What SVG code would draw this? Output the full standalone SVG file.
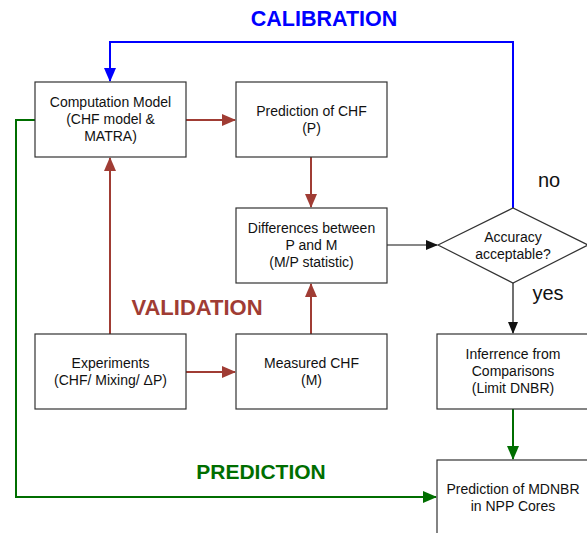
<svg xmlns="http://www.w3.org/2000/svg" width="587" height="533" viewBox="0 0 587 533">
<style>
.box{fill:#fff;stroke:#333;stroke-width:1.2}
.t{font-family:"Liberation Sans",Arial,sans-serif;font-size:14px;fill:#111;text-anchor:middle}
.lbl{font-family:"Liberation Sans",Arial,sans-serif;font-weight:bold;text-anchor:middle}
.br{stroke:#A03C34;stroke-width:2;fill:none}
.bk{stroke:#111;stroke-width:1.2;fill:none}
.bl{stroke:#0000FF;stroke-width:2;fill:none}
.gr{stroke:#006E00;stroke-width:2;fill:none}
</style>
<defs>
<marker id="mbr" markerWidth="14" markerHeight="12" refX="13" refY="6" orient="auto" markerUnits="userSpaceOnUse"><path d="M0,0 L14,6 L0,12 z" fill="#A03C34"/></marker>
<marker id="mbk" markerWidth="12" markerHeight="10" refX="11" refY="5" orient="auto" markerUnits="userSpaceOnUse"><path d="M0,0 L12,5 L0,10 z" fill="#111"/></marker>
<marker id="mbl" markerWidth="14" markerHeight="12" refX="13" refY="6" orient="auto" markerUnits="userSpaceOnUse"><path d="M0,0 L14,6 L0,12 z" fill="#0000FF"/></marker>
<marker id="mgr" markerWidth="14" markerHeight="12" refX="13" refY="6" orient="auto" markerUnits="userSpaceOnUse"><path d="M0,0 L14,6 L0,12 z" fill="#006E00"/></marker>
</defs>
<rect width="587" height="533" fill="#fff"/>
<g id="connectors">
<path class="br" d="M186,120 H235" marker-end="url(#mbr)"/>
<path class="br" d="M311,157 V207" marker-end="url(#mbr)"/>
<path class="br" d="M311,334 V284" marker-end="url(#mbr)"/>
<path class="br" d="M110,334 V158" marker-end="url(#mbr)"/>
<path class="br" d="M186,372 H235" marker-end="url(#mbr)"/>
<path class="bk" d="M387,245 H437" marker-end="url(#mbk)"/>
<path class="bk" d="M513,283 V333" marker-end="url(#mbk)"/>
<path class="bl" d="M513,208 V42 H110 V81" marker-end="url(#mbl)"/>
<path class="gr" d="M35,120 H16 V497 H436" marker-end="url(#mgr)"/>
<path class="gr" d="M513,409 V459" marker-end="url(#mgr)"/>
</g>
<g id="computation-model">
<rect class="box" x="35" y="82" width="151" height="75"/>
<text class="t" x="110.5" y="107">Computation Model</text>
<text class="t" x="110.5" y="124">(CHF model &amp;</text>
<text class="t" x="110.5" y="141">MATRA)</text>
</g>
<g id="prediction-chf">
<rect class="box" x="236" y="82" width="151" height="75"/>
<text class="t" x="311.5" y="116">Prediction of CHF</text>
<text class="t" x="311.5" y="133">(P)</text>
</g>
<g id="differences">
<rect class="box" x="236" y="208" width="151" height="75"/>
<text class="t" x="311.5" y="233">Differences between</text>
<text class="t" x="311.5" y="250">P and M</text>
<text class="t" x="311.5" y="267">(M/P statistic)</text>
</g>
<g id="accuracy">
<path class="box" d="M438,245 L513,208 L588,245 L513,283 z"/>
<text class="t" x="513" y="242">Accuracy</text>
<text class="t" x="513" y="259">acceptable?</text>
</g>
<g id="experiments">
<rect class="box" x="35" y="334" width="151" height="75"/>
<text class="t" x="110.5" y="368">Experiments</text>
<text class="t" x="110.5" y="385">(CHF/ Mixing/ ΔP)</text>
</g>
<g id="measured-chf">
<rect class="box" x="236" y="334" width="151" height="75"/>
<text class="t" x="311.5" y="368">Measured CHF</text>
<text class="t" x="311.5" y="385">(M)</text>
</g>
<g id="inferrence">
<rect class="box" x="437" y="334" width="151" height="75"/>
<text class="t" x="513" y="359">Inferrence from</text>
<text class="t" x="513" y="376">Comparisons</text>
<text class="t" x="513" y="393">(Limit DNBR)</text>
</g>
<g id="prediction-mdnbr">
<rect class="box" x="437" y="460" width="151" height="80"/>
<text class="t" x="513" y="494">Prediction of MDNBR</text>
<text class="t" x="513" y="511">in NPP Cores</text>
</g>
<g id="labels">
<text class="lbl" x="324" y="26" font-size="21.5" fill="#0000FF">CALIBRATION</text>
<text class="lbl" x="197" y="315" font-size="22" fill="#A03C34">VALIDATION</text>
<text class="lbl" x="261" y="479" font-size="21" fill="#006E00">PREDICTION</text>
<text x="549" y="187" font-family="Liberation Sans,Arial,sans-serif" font-size="20" fill="#111" text-anchor="middle">no</text>
<text x="548" y="300" font-family="Liberation Sans,Arial,sans-serif" font-size="20" fill="#111" text-anchor="middle">yes</text>
</g>
</svg>
